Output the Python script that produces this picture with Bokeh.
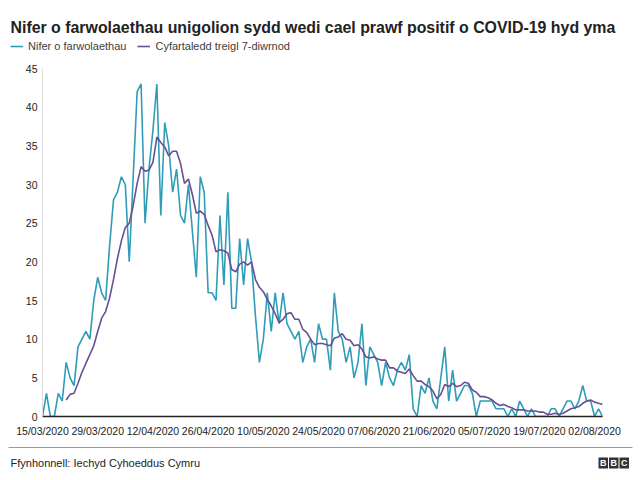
import pandas as pd
from bokeh.plotting import figure
from bokeh.models import (ColumnDataSource, FixedTicker, DatetimeTickFormatter,
                          Legend, LegendItem, Range1d)
from bokeh.layouts import column
from bokeh.core.properties import value
from bokeh.embed import file_html
from bokeh.resources import INLINE

NAN = float("nan")

# ---------------- data ----------------
start_date = "2020-03-15"
deaths = [0, 3, 0, 0, 3, 2, 7, 5, 4, 9, 10, 11, 10, 15, 18, 16, 15, 22, 28, 29,
          31, 30, 20, 31, 42, 43, 25, 32, 37, 43, 26, 38, 35, 29, 32, 26, 25, 30,
          24, 18, 31, 29, 16, 16, 15, 26, 17, 29, 14, 14, 23, 17, 23, 20, 13, 7,
          10, 16, 11, 16, 12, 16, 12, 11, 10, 11, 7, 9, 10, 7, 12, 10, 10, 6, 16,
          11, 10, 7, 9, 5, 7, 12, 4, 9, 8, 7, 4, 7, 5, 4, 6, 7, 6, 8, 1, 0,
          4, 3, 5, 2, 1, 5, 9, 2, 6, 2, 3, 4, 4, 3, 0, 2, 2, 2, 2, 1, 1, 1, 0, 1, 0,
          2, 1, 0, 1, 0, 0, 0, 0, 1, 1, 0, 1, 2, 2, 1, 2, 4, 2, 2, 0, 1, 0]
avg_7day = [NAN, NAN, NAN, NAN, NAN, NAN,
            2.14, 2.86, 3.00, 4.29, 5.71, 6.86, 8.00, 9.14, 11.00, 12.71,
            13.57, 15.29, 17.71, 20.43, 22.71, 24.43, 25.00, 27.29, 30.14, 32.29,
            31.71, 31.86, 32.86, 36.14, 35.43, 34.86, 33.71, 34.29, 34.29, 32.71,
            30.14, 30.71, 28.71, 26.29, 26.57, 26.14, 24.71, 23.43, 21.29, 21.57,
            21.43, 21.14, 19.00, 18.71, 19.71, 20.00, 19.57, 20.00, 17.71, 16.71,
            16.14, 15.14, 14.29, 13.29, 12.14, 12.57, 13.29, 13.43, 12.57, 12.57,
            11.29, 10.86, 10.00, 9.29, 9.43, 9.43, 9.29, 9.14, 10.14, 10.29,
            10.71, 10.00, 9.86, 9.14, 9.29, 8.71, 7.71, 7.57, 7.71, 7.43,
            7.29, 7.29, 6.29, 6.29, 5.86, 5.71, 5.57, 6.14, 5.29, 4.57,
            4.57, 4.14, 3.86, 3.29, 2.29, 2.86, 4.14, 3.86, 4.29, 3.86,
            4.00, 4.43, 4.29, 3.43, 3.14, 2.57, 2.57, 2.43, 2.14, 1.71,
            1.43, 1.57, 1.29, 1.14, 0.86, 0.86, 0.86, 0.71, 0.71, 0.71,
            0.57, 0.57, 0.29, 0.29, 0.43, 0.29, 0.43, 0.71, 1.00, 1.14,
            1.29, 1.71, 2.00, 2.14, 1.86, 1.71, 1.57]
tick_labels = ["15/03/2020", "29/03/2020", "12/04/2020", "26/04/2020",
               "10/05/2020", "24/05/2020", "07/06/2020", "21/06/2020",
               "05/07/2020", "19/07/2020", "02/08/2020"]
y_ticks = [0, 5, 10, 15, 20, 25, 30, 35, 40, 45]
title_text = "Nifer o farwolaethau unigolion sydd wedi cael prawf positif o COVID-19 hyd yma"
legend_labels = ["Nifer o farwolaethau", "Cyfartaledd treigl 7-diwrnod"]
source_text = "Ffynhonnell: Iechyd Cyhoeddus Cymru"
logo_letters = ["B", "B", "C"]

dates = pd.date_range(start_date, periods=len(deaths), freq="D")
src = ColumnDataSource(dict(date=dates, deaths=deaths, avg=avg_7day))

FONT = "Liberation Sans"
C_DAILY = "#2f9db8"
C_AVG = "#6a4f93"
W = 636

# ---------------- header: title + legend ----------------
h = figure(width=W, height=58, output_backend="svg", toolbar_location=None,
           x_range=Range1d(0, W), y_range=Range1d(0, 58),
           min_border=0, x_axis_location=None, y_axis_location=None,
           frame_align=False)
h.outline_line_color = None
h.xgrid.visible = False
h.ygrid.visible = False
h.text(x=[10], y=[31], text=[title_text], text_font=value(FONT),
       text_font_size=value("15.9px"), text_font_style="bold",
       text_color="#222222", text_baseline="alphabetic")
hr1 = h.line(x=[NAN], y=[NAN], color=C_DAILY, line_width=1.6)
hr2 = h.line(x=[NAN], y=[NAN], color=C_AVG, line_width=1.6)
legend = Legend(items=[LegendItem(label=legend_labels[0], renderers=[hr1]),
                       LegendItem(label=legend_labels[1], renderers=[hr2])],
                location=(10, 6), orientation="horizontal",
                padding=0, margin=0, spacing=11, glyph_width=13, glyph_height=12,
                label_height=12, label_standoff=5,
                label_text_font=FONT, label_text_font_size="11px",
                label_text_color="#404040",
                border_line_alpha=0, background_fill_alpha=0)
h.add_layout(legend, "center")

# ---------------- main chart ----------------
p = figure(width=W, height=388, x_axis_type="datetime",
           output_backend="svg", toolbar_location=None,
           x_range=Range1d(dates[0], dates[-1]), y_range=Range1d(0, 45),
           min_border_left=42, min_border_right=W - 42 - 560,
           min_border_top=10, min_border_bottom=30, frame_align=False)
p.outline_line_color = None
p.xgrid.visible = False
p.ygrid.visible = False

p.line("date", "deaths", source=src, color=C_DAILY, line_width=1.6)
p.line("date", "avg", source=src, color=C_AVG, line_width=1.6)

tick_dates = pd.to_datetime(tick_labels, format="%d/%m/%Y")
p.xaxis.ticker = FixedTicker(ticks=[d.timestamp() * 1000 for d in tick_dates])
p.xaxis.formatter = DatetimeTickFormatter(days="%d/%m/%Y", months="%d/%m/%Y")
p.xaxis.axis_line_color = "#222222"
p.xaxis.axis_line_width = 1.6
p.xaxis.major_label_standoff = 8
p.yaxis.ticker = FixedTicker(ticks=y_ticks)
p.yaxis.axis_line_color = "#dddddd"
p.yaxis.major_label_standoff = 5
for ax in (p.xaxis, p.yaxis):
    ax.major_tick_line_color = None
    ax.minor_tick_line_color = None
    ax.major_tick_out = 0
    ax.major_tick_in = 0
    ax.minor_tick_out = 0
    ax.minor_tick_in = 0
    ax.major_label_text_font = FONT
    ax.major_label_text_font_size = "10.5px"
    ax.major_label_text_color = "#222222"

# ---------------- footer ----------------
f = figure(width=W, height=30, output_backend="svg", toolbar_location=None,
           x_range=Range1d(0, W), y_range=Range1d(0, 30),
           min_border=0, x_axis_location=None, y_axis_location=None,
           frame_align=False)
f.outline_line_color = None
f.xgrid.visible = False
f.ygrid.visible = False
f.segment(x0=[8], y0=[29], x1=[632], y1=[29], line_color="#999999", line_width=1)
f.text(x=[10], y=[14], text=[source_text], text_font=value(FONT),
       text_font_size=value("11px"), text_baseline="middle", text_color="#222222")
lx = [598, 608.5, 619]
f.quad(left=lx, right=[v + 9.5 for v in lx], bottom=[8] * 3, top=[19] * 3,
       fill_color="#333333", line_color=None)
f.text(x=[v + 4.75 for v in lx], y=[13.5] * 3, text=logo_letters, text_font=value(FONT),
       text_font_size=value("9px"), text_font_style="bold", text_color="white",
       text_align="center", text_baseline="middle")

layout = column(h, p, f, spacing=0)
open("out.html", "w").write(file_html(layout, INLINE))
